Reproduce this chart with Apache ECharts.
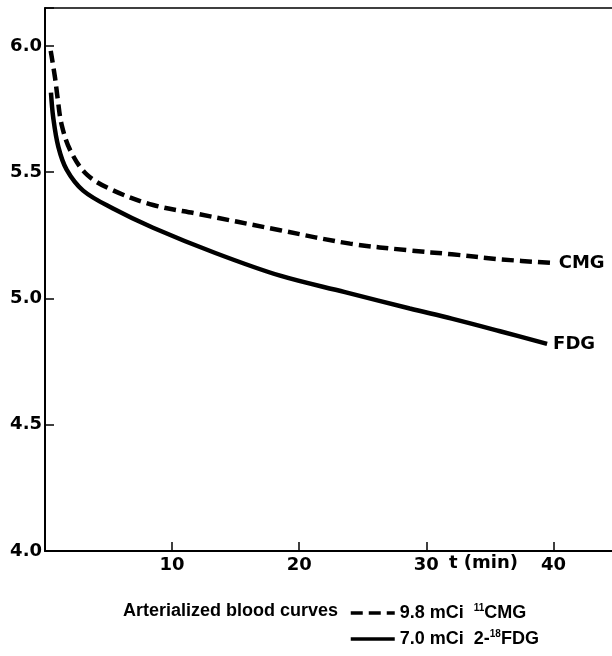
<!DOCTYPE html>
<html>
<head>
<meta charset="utf-8">
<script src="https://cdn.jsdelivr.net/npm/echarts@6/dist/echarts.min.js"></script>
<style>
  html, body { margin: 0; padding: 0; background: #fff; }
  #chart { width: 612px; height: 656px; }
</style>
</head>
<body>
<div id="chart"></div>
<script>
// arterialized blood curves
const cmgTime  = [0.45, 0.8, 1.0, 1.3, 2.0, 3.3, 5.4, 8.5, 12, 18.5, 24, 28.7, 32, 35.8, 40.1];
const cmgValue = [5.98, 5.87, 5.79, 5.69, 5.585, 5.49, 5.427, 5.37, 5.335, 5.27, 5.217, 5.19, 5.175, 5.155, 5.14];
const fdgTime  = [0.47, 0.65, 1.05, 1.7, 3.0, 5.35, 8.5, 13.4, 18.5, 23.6, 28.7, 32, 35.8, 39.5];
const fdgValue = [5.815, 5.715, 5.6, 5.51, 5.427, 5.356, 5.28, 5.18, 5.09, 5.025, 4.96, 4.92, 4.87, 4.82];

const seriesNames = ['CMG', 'FDG'];
const legendText = {
  CMG: '9.8 mCi  {sup|11}CMG',
  FDG: '7.0 mCi  2-{sup|18}FDG'
};
const xTicks = [10, 20, 30, 40];
const yTicks = [4.0, 4.5, 5.0, 5.5, 6.0];
const xTitle = 't (min)';
const legendTitle = 'Arterialized blood curves';

const font = 'DejaVu Sans';
const legendFont = 'Liberation Sans';
const zip = (a, b) => a.map((v, i) => [v, b[i]]);

const legendBase = {
  orient: 'vertical', left: 349, padding: 0,
  itemWidth: 44, itemHeight: 14,
  itemStyle: { opacity: 0 },
  lineStyle: { width: 3.5 },
  formatter: name => legendText[name],
  textStyle: {
    color: '#000', fontFamily: legendFont, fontWeight: 'bold', fontSize: 18, lineHeight: 20,
    rich: {
      sup: { fontSize: 10, fontFamily: legendFont, fontWeight: 'bold', verticalAlign: 'top', lineHeight: 10, padding: [0, 0, 6, 0] }
    }
  }
};

const chart = echarts.init(document.getElementById('chart'));
chart.setOption({
  animation: false,
  grid: { left: 45, right: -5, top: 8, bottom: 105, outerBoundsMode: 'none' },
  xAxis: [{
    type: 'value', min: 0, max: 45, interval: 10,
    splitLine: { show: false },
    axisLine: { lineStyle: { color: '#000', width: 2 } },
    axisTick: { inside: true, length: 9, lineStyle: { color: '#000', width: 1.5 } },
    axisLabel: {
      margin: 5, color: '#000', fontFamily: font, fontWeight: 'bold', fontSize: 18,
      formatter: v => xTicks.includes(v) ? String(v) : ''
    }
  }, {
    type: 'value', position: 'top', min: 0, max: 45,
    splitLine: { show: false },
    axisLine: { lineStyle: { color: '#000', width: 1.5 } },
    axisTick: { show: false }, axisLabel: { show: false }
  }],
  yAxis: {
    type: 'value', min: 4, max: 6.15, interval: 0.5,
    splitLine: { show: false },
    axisLine: { show: true, lineStyle: { color: '#000', width: 2 } },
    axisTick: { show: true, inside: true, length: 9, lineStyle: { color: '#000', width: 1.5 } },
    axisLabel: {
      margin: 3, color: '#000', fontFamily: font, fontWeight: 'bold', fontSize: 18,
      formatter: v => yTicks.some(t => Math.abs(t - v) < 1e-6) ? v.toFixed(1) : ''
    }
  },
  legend: [
    Object.assign({}, legendBase, { top: 603, data: [seriesNames[0]] }),
    Object.assign({}, legendBase, { top: 629, data: [seriesNames[1]] })
  ],
  graphic: [
    { type: 'text', right: 612 - 338, top: 602,
      style: { text: legendTitle, fill: '#000', font: 'bold 18px "Liberation Sans"' } },
    { type: 'text', left: 449, top: 554,
      style: { text: xTitle, fill: '#000', font: 'bold 18px "DejaVu Sans"' } }
  ],
  series: [{
    name: 'CMG', type: 'line', symbol: 'none', smooth: 0.35,
    data: zip(cmgTime, cmgValue),
    lineStyle: { color: '#000', width: 4.5, type: [12, 6] },
    itemStyle: { color: '#000' },
    endLabel: { show: true, formatter: '{a}', distance: 4, color: '#000', fontFamily: font, fontWeight: 'bold', fontSize: 18 }
  }, {
    name: 'FDG', type: 'line', symbol: 'none', smooth: 0.35,
    data: zip(fdgTime, fdgValue),
    lineStyle: { color: '#000', width: 4.5 },
    itemStyle: { color: '#000' },
    endLabel: { show: true, formatter: '{a}', distance: 6, color: '#000', fontFamily: font, fontWeight: 'bold', fontSize: 18 }
  }]
});
</script>
</body>
</html>
